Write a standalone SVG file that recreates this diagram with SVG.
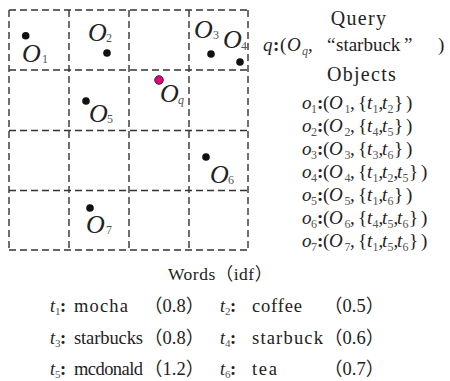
<svg xmlns="http://www.w3.org/2000/svg" width="450" height="381" viewBox="0 0 450 381">
<style>
.g{stroke:#333;stroke-width:1.4;stroke-dasharray:7 4;fill:none}
.dot{fill:#111}
.lbl{font-family:"Liberation Serif",serif;font-style:italic;font-size:26px;fill:#222}
.sub{font-size:12px;font-style:normal;fill:#555}
.m{font-family:"Liberation Serif","Noto Sans CJK SC",serif;font-size:19px;fill:#222}
.i{font-style:italic}
.s{font-size:12px;fill:#555}
.b{font-weight:bold}
.h{font-family:"Liberation Serif",serif;font-size:20px;letter-spacing:1.3px;fill:#222}
.w{font-family:"Liberation Serif","Noto Sans CJK SC",serif;font-size:18.5px;fill:#222}
.t{font-family:"Liberation Serif",serif;font-style:italic;font-size:18px}
.ts{font-family:"Liberation Serif",serif;font-style:normal;font-size:11px;fill:#555}
</style>
<g id="grid">
<path class="g" d="M9,10V250M69,10V250M129,10V250M189,10V250M248,10V250M9,10H248M9,70H248M9,130.5H248M9,190.5H248M9,250H248"/>
</g>
<g id="O1"><circle class="dot" cx="25.7" cy="35.7" r="3.8"/><text class="lbl" x="22" y="62">O<tspan class="sub" x="42" y="63">1</tspan></text></g>
<g id="O2"><circle class="dot" cx="107" cy="53" r="3.8"/><text class="lbl" x="88" y="41">O<tspan class="sub" x="106" y="42">2</tspan></text></g>
<g id="O3"><circle class="dot" cx="211" cy="54" r="3.8"/><text class="lbl" x="194" y="38">O<tspan class="sub" x="213" y="39">3</tspan></text></g>
<g id="O4"><circle class="dot" cx="240" cy="62" r="3.8"/><text class="lbl" x="223" y="48">O<tspan class="sub" x="241" y="50">4</tspan></text></g>
<g id="Oq"><circle cx="159" cy="80" r="4.3" fill="#e5007a" stroke="#333" stroke-width="1"/><text class="lbl" x="160" y="102">O<tspan class="sub" style="font-style:italic" x="178" y="104">q</tspan></text></g>
<g id="O5"><circle class="dot" cx="86" cy="101" r="3.8"/><text class="lbl" x="89" y="122">O<tspan class="sub" x="107" y="123">5</tspan></text></g>
<g id="O6"><circle class="dot" cx="206" cy="157" r="3.8"/><text class="lbl" x="210" y="183">O<tspan class="sub" x="228" y="184">6</tspan></text></g>
<g id="O7"><circle class="dot" cx="90" cy="208" r="3.8"/><text class="lbl" x="86" y="233">O<tspan class="sub" x="106" y="234">7</tspan></text></g>

<g id="query">
<text class="h" x="359" y="25" text-anchor="middle">Query</text>
<text class="m" y="51"><tspan class="i" x="263">q</tspan><tspan class="b" x="273">:</tspan><tspan x="280">(</tspan><tspan class="i" x="287">O</tspan><tspan class="i s" x="302" y="55">q</tspan><tspan x="308" y="51">,</tspan><tspan x="327">“</tspan><tspan x="336">starbuck</tspan><tspan x="404">”</tspan><tspan x="438">)</tspan></text>
</g>

<g id="objects">
<text class="h" x="362" y="81" text-anchor="middle">Objects</text>
<text class="m" y="109"><tspan class="i" x="302">o</tspan><tspan class="s" x="311" y="113">1</tspan><tspan class="b" x="317" y="109">:</tspan><tspan x="323">(</tspan><tspan class="i" x="329">O</tspan><tspan class="s" x="344.5" y="113">1</tspan><tspan x="350" y="109">,</tspan><tspan x="358">{</tspan><tspan class="i" x="367">t</tspan><tspan class="s" x="372.5" y="113">1</tspan><tspan x="378.5" y="109">,</tspan><tspan class="i" x="382">t</tspan><tspan class="s" x="387.5" y="113">2</tspan><tspan x="394" y="109">}</tspan><tspan x="406">)</tspan></text>
<text class="m" y="132"><tspan class="i" x="302">o</tspan><tspan class="s" x="311" y="136">2</tspan><tspan class="b" x="317" y="132">:</tspan><tspan x="323">(</tspan><tspan class="i" x="329">O</tspan><tspan class="s" x="344.5" y="136">2</tspan><tspan x="350" y="132">,</tspan><tspan x="358">{</tspan><tspan class="i" x="367">t</tspan><tspan class="s" x="372.5" y="136">4</tspan><tspan x="378.5" y="132">,</tspan><tspan class="i" x="382">t</tspan><tspan class="s" x="387.5" y="136">5</tspan><tspan x="394" y="132">}</tspan><tspan x="406">)</tspan></text>
<text class="m" y="155"><tspan class="i" x="302">o</tspan><tspan class="s" x="311" y="159">3</tspan><tspan class="b" x="317" y="155">:</tspan><tspan x="323">(</tspan><tspan class="i" x="329">O</tspan><tspan class="s" x="344.5" y="159">3</tspan><tspan x="350" y="155">,</tspan><tspan x="358">{</tspan><tspan class="i" x="367">t</tspan><tspan class="s" x="372.5" y="159">3</tspan><tspan x="378.5" y="155">,</tspan><tspan class="i" x="382">t</tspan><tspan class="s" x="387.5" y="159">6</tspan><tspan x="394" y="155">}</tspan><tspan x="406">)</tspan></text>
<text class="m" y="178"><tspan class="i" x="302">o</tspan><tspan class="s" x="311" y="182">4</tspan><tspan class="b" x="317" y="178">:</tspan><tspan x="323">(</tspan><tspan class="i" x="329">O</tspan><tspan class="s" x="344.5" y="182">4</tspan><tspan x="350" y="178">,</tspan><tspan x="358">{</tspan><tspan class="i" x="367">t</tspan><tspan class="s" x="372.5" y="182">1</tspan><tspan x="378.5" y="178">,</tspan><tspan class="i" x="382">t</tspan><tspan class="s" x="387.5" y="182">2</tspan><tspan x="393.5" y="178">,</tspan><tspan class="i" x="397">t</tspan><tspan class="s" x="402.5" y="182">5</tspan><tspan x="409" y="178">}</tspan><tspan x="421">)</tspan></text>
<text class="m" y="201"><tspan class="i" x="302">o</tspan><tspan class="s" x="311" y="205">5</tspan><tspan class="b" x="317" y="201">:</tspan><tspan x="323">(</tspan><tspan class="i" x="329">O</tspan><tspan class="s" x="344.5" y="205">5</tspan><tspan x="350" y="201">,</tspan><tspan x="358">{</tspan><tspan class="i" x="367">t</tspan><tspan class="s" x="372.5" y="205">1</tspan><tspan x="378.5" y="201">,</tspan><tspan class="i" x="382">t</tspan><tspan class="s" x="387.5" y="205">6</tspan><tspan x="394" y="201">}</tspan><tspan x="406">)</tspan></text>
<text class="m" y="224"><tspan class="i" x="302">o</tspan><tspan class="s" x="311" y="228">6</tspan><tspan class="b" x="317" y="224">:</tspan><tspan x="323">(</tspan><tspan class="i" x="329">O</tspan><tspan class="s" x="344.5" y="228">6</tspan><tspan x="350" y="224">,</tspan><tspan x="358">{</tspan><tspan class="i" x="367">t</tspan><tspan class="s" x="372.5" y="228">4</tspan><tspan x="378.5" y="224">,</tspan><tspan class="i" x="382">t</tspan><tspan class="s" x="387.5" y="228">5</tspan><tspan x="393.5" y="224">,</tspan><tspan class="i" x="397">t</tspan><tspan class="s" x="402.5" y="228">6</tspan><tspan x="409" y="224">}</tspan><tspan x="421">)</tspan></text>
<text class="m" y="247"><tspan class="i" x="302">o</tspan><tspan class="s" x="311" y="251">7</tspan><tspan class="b" x="317" y="247">:</tspan><tspan x="323">(</tspan><tspan class="i" x="329">O</tspan><tspan class="s" x="344.5" y="251">7</tspan><tspan x="350" y="247">,</tspan><tspan x="358">{</tspan><tspan class="i" x="367">t</tspan><tspan class="s" x="372.5" y="251">1</tspan><tspan x="378.5" y="247">,</tspan><tspan class="i" x="382">t</tspan><tspan class="s" x="387.5" y="251">5</tspan><tspan x="393.5" y="247">,</tspan><tspan class="i" x="397">t</tspan><tspan class="s" x="402.5" y="251">6</tspan><tspan x="409" y="247">}</tspan><tspan x="421">)</tspan></text>
</g>

<g id="words">
<text class="w" x="168" y="280" style="font-size:17.5px;letter-spacing:0.5px">Words（idf）</text>
<text class="w" y="312"><tspan class="t" x="50">t</tspan><tspan class="ts" x="55" y="315">1</tspan><tspan class="b" x="60" y="312">:</tspan></text>
<text class="w" x="74" y="312" textLength="54">mocha</text>
<text class="w" x="144" y="312">（0.8）</text>
<text class="w" y="312"><tspan class="t" x="220">t</tspan><tspan class="ts" x="225" y="315">2</tspan><tspan class="b" x="230" y="312">:</tspan></text>
<text class="w" x="252" y="312" textLength="50">coffee</text>
<text class="w" x="324" y="312">（0.5）</text>
<text class="w" y="344"><tspan class="t" x="50">t</tspan><tspan class="ts" x="55" y="347">3</tspan><tspan class="b" x="60" y="344">:</tspan></text>
<text class="w" x="74" y="344" textLength="69">starbucks</text>
<text class="w" x="144" y="344">（0.8）</text>
<text class="w" y="344"><tspan class="t" x="220">t</tspan><tspan class="ts" x="225" y="347">4</tspan><tspan class="b" x="230" y="344">:</tspan></text>
<text class="w" x="252" y="344" textLength="71">starbuck</text>
<text class="w" x="324" y="344">（0.6）</text>
<text class="w" y="375"><tspan class="t" x="50">t</tspan><tspan class="ts" x="55" y="378">5</tspan><tspan class="b" x="60" y="375">:</tspan></text>
<text class="w" x="74" y="375" textLength="69">mcdonald</text>
<text class="w" x="144" y="375">（1.2）</text>
<text class="w" y="375"><tspan class="t" x="220">t</tspan><tspan class="ts" x="225" y="378">6</tspan><tspan class="b" x="230" y="375">:</tspan></text>
<text class="w" x="252" y="375" textLength="25">tea</text>
<text class="w" x="324" y="375">（0.7）</text>
</g>
</svg>
